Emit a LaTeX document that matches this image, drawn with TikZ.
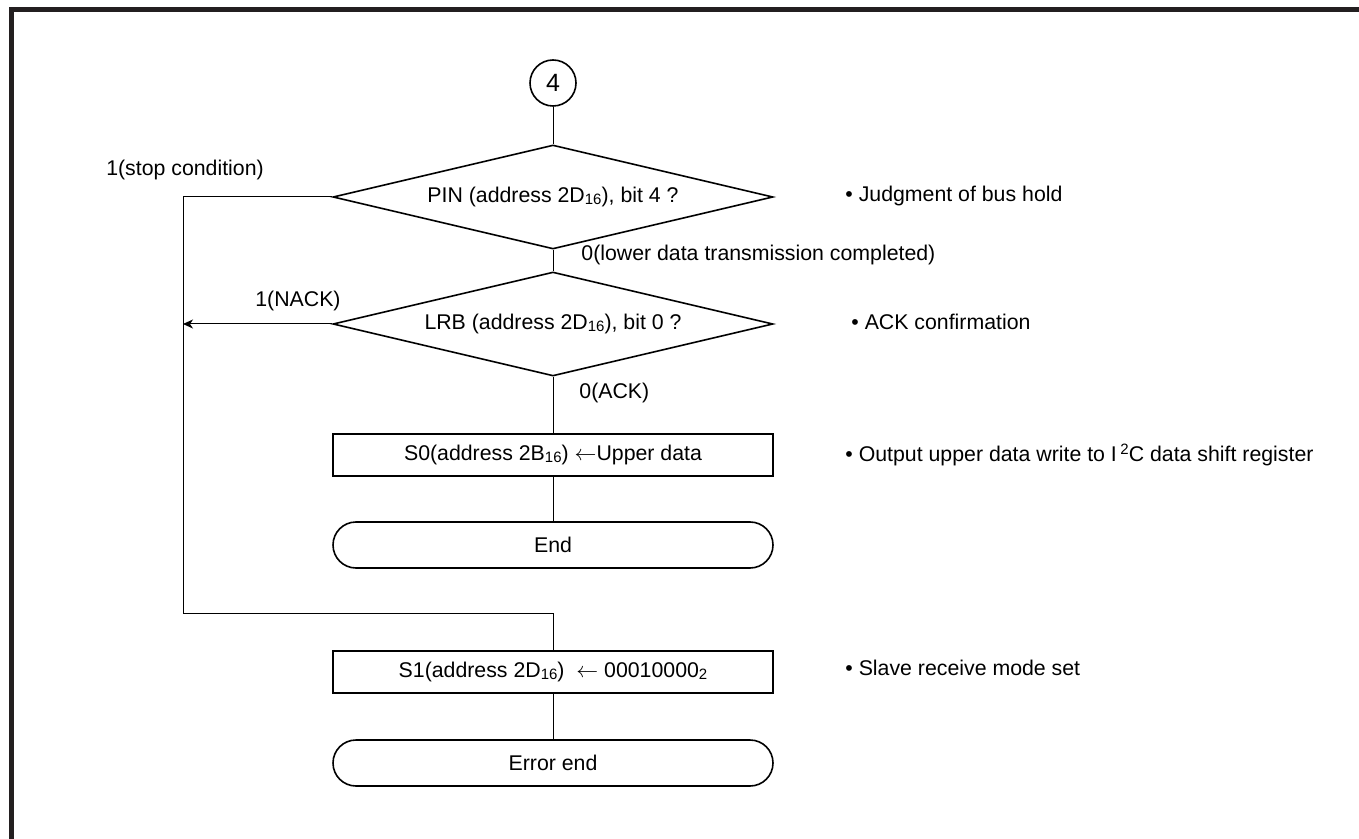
\documentclass[tikz,border=0pt]{standalone}
\usepackage{fontspec}
\setmainfont{Liberation Sans}
\usetikzlibrary{shapes.geometric,shapes.misc,arrows.meta}
\definecolor{framec}{HTML}{231F20}
\newcommand\lowsub[1]{\raisebox{-0.2ex}{\fontsize{7.5}{8}\selectfont #1}}
\newcommand\highsup[1]{\raisebox{0.55ex}{\fontsize{7.5}{8}\selectfont #1}}
\begin{document}
\begin{tikzpicture}[x=0.5pt,y=-0.5pt,
  font=\fontsize{10.65}{13}\selectfont,
  decision/.style={draw, line width=0.8pt, diamond, aspect=4.23, inner sep=0pt,
    minimum width=220pt, minimum height=52pt},
  process/.style={draw, line width=0.8pt, rectangle, inner sep=0pt,
    minimum width=220pt, minimum height=21pt},
  terminal/.style={draw, line width=0.8pt, rounded rectangle, inner sep=0pt,
    minimum width=220pt, minimum height=23pt},
  connector/.style={draw, line width=0.5pt},
  connectorlabel/.style={anchor=west, inner sep=0pt},
  note/.style={anchor=west, inner sep=0pt}]
\useasboundingbox (0,0) rectangle (1359,839);
% frame
\fill[framec] (9,7) rectangle (1359,12);
\fill[framec] (9,7) rectangle (14,839);

% nodes
\node[draw, circle, line width=0.8pt, minimum size=23pt, inner sep=0pt, font=\fontsize{12.5}{14}\selectfont] (c4) at (553,83) {4};
\node[decision] (d1) at (553,197) {PIN (address 2D\lowsub{16}), bit 4 ?};
\node[decision] (d2) at (553,324) {LRB (address 2D\lowsub{16}), bit 0 ?};
\node[process] (s0) at (553,455) {S0(address 2B\lowsub{16}) $\leftarrow$Upper data};
\node[terminal] (endn) at (553,545) {End};
\node[process] (s1) at (553,672) {S1(address 2D\lowsub{16})\ \ $\leftarrow$ 00010000\lowsub{2}};
\node[terminal] (errend) at (553,763) {Error end};

\coordinate (lt) at (183,197);
\coordinate (lb) at (183,613);
\coordinate (mb) at (553,613);
\coordinate (na) at (183,324);

% connectors
\draw[connector] (c4.south) -- (d1.north);
\draw[connector] (d1.south) -- (d2.north);
\draw[connector] (d2.south) -- (s0.north);
\draw[connector] (s0.south) -- (endn.north);
\draw[connector] (d1.west) -- (lt) -- (lb) -- (mb) -- (s1.north);
\draw[connector, -{Stealth[length=5pt,width=4.5pt,inset=1.5pt]}] (d2.west) -- (na);
\draw[connector] (s1.south) -- (errend.north);

% connector labels
\node[inner sep=0pt] (l1) at (185,170) {1(stop condition)};
\node[connectorlabel] (l2) at (581,255) {0(lower data transmission completed)};
\node[anchor=east, inner sep=0pt] (l3) at (341,301) {1(NACK)};
\node[connectorlabel] (l4) at (579,393) {0(ACK)};

% notes
\node[note] (n1) at (845,196) {\textbullet\ Judgment of bus hold};
\node[note] (n2) at (851,322) {\textbullet\ ACK confirmation};
\node[note] (n3) at (845,455) {\textbullet\ Output upper data write to I\,\highsup{2}C data shift register};
\node[note] (n4) at (845,668) {\textbullet\ Slave receive mode set};
\end{tikzpicture}
\end{document}
